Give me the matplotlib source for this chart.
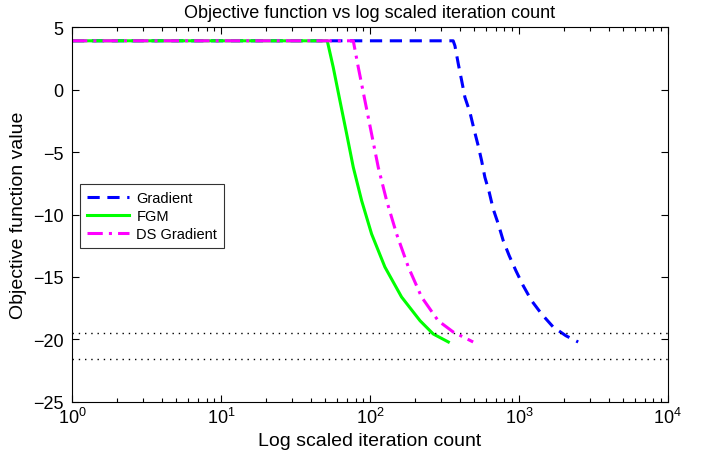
import numpy as np
import matplotlib.pyplot as plt
from matplotlib.ticker import LogLocator

plt.rcParams['font.family'] = ['Liberation Sans', 'DejaVu Sans']

# values
grad_x = [1, 362, 372, 392, 413, 434, 469, 499, 533, 562, 591, 632, 672, 727, 785,
          861, 955, 1069, 1217, 1420, 1698, 2067, 2500]
grad_y = [3.9, 3.9, 3.5, 2.04, 0.70, -0.62, -1.82, -3.16, -4.5, -5.7, -7.02, -8.22,
          -9.56, -10.76, -12.1, -13.3, -14.5, -15.7, -16.9, -17.96, -19.0, -19.7, -20.2]

fgm_x = [1, 51.7, 56.7, 62.9, 69.8, 77.3, 88.0, 102.6, 126, 163, 217, 266, 336]
fgm_y = [3.9, 3.9, 1.78, -0.9, -3.56, -6.22, -8.9, -11.56, -14.2, -16.6, -18.5, -19.56, -20.2]

ds_x = [1, 77.3, 83.5, 92.6, 102.6, 113.7, 129.5, 151, 181, 222, 287, 362, 493]
ds_y = [3.9, 3.9, 1.78, -0.9, -3.56, -6.22, -8.9, -11.56, -14.2, -16.6, -18.5, -19.4, -20.2]

bounds = [-19.45, -21.6]

fig = plt.figure(figsize=(7.06, 4.60), dpi=100)
ax = fig.add_axes([0.102, 0.124, 0.844, 0.815])

ax.semilogx(grad_x, grad_y, color='#0000ff', ls=(0, (4, 2.5)), lw=2.2, label='Gradient')
ax.semilogx(fgm_x, fgm_y, color='#00ff00', ls='-', lw=2.2, label='FGM')
ax.semilogx(ds_x, ds_y, color='#ff00ff', ls=(0, (5, 2, 1, 2)), lw=2.2, label='DS Gradient')
for b in bounds:
    ax.axhline(b, color='black', ls=(0, (1, 3.5)), lw=1)

ax.set_xlim(1, 1e4)
ax.set_ylim(-25, 5)
ax.set_yticks([-25, -20, -15, -10, -5, 0, 5])
ax.set_yticklabels(['\u221225', '\u221220', '\u221215', '\u221210', '\u22125', '0', '5'])
ax.xaxis.set_major_locator(LogLocator(base=10, numticks=10))
ax.xaxis.set_minor_locator(LogLocator(base=10, subs=np.arange(2, 10), numticks=10))
ax.tick_params(which='both', direction='in', top=True, right=True, labelsize=13, width=0.8)
ax.tick_params(which='major', length=5)
ax.tick_params(which='minor', length=3)
ax.tick_params(axis='y', pad=6)
for s in ax.spines.values():
    s.set_linewidth(0.8)

ax.set_title('Objective function vs log scaled iteration count', fontsize=13, pad=7)
ax.set_xlabel('Log scaled iteration count', fontsize=14)
ax.set_ylabel('Objective function value', fontsize=14)

leg = ax.legend(loc='upper left', bbox_to_anchor=(0.014, 0.581), borderaxespad=0,
                fontsize=10.5, frameon=True, fancybox=False, edgecolor='black',
                handlelength=2.9, borderpad=0.45, labelspacing=0.3, handletextpad=0.5)
leg.get_frame().set_linewidth(0.8)

fig.savefig('out.png', dpi=100)
